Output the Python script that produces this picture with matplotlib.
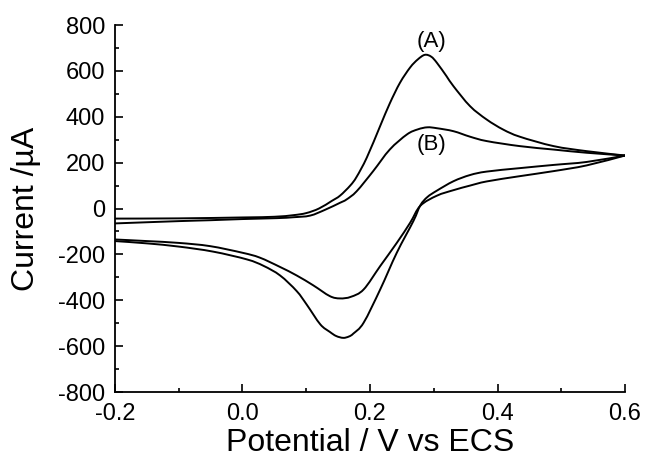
import numpy as np
import matplotlib
matplotlib.use("Agg")
import matplotlib.pyplot as plt
from matplotlib.path import Path
from matplotlib.patches import PathPatch
from matplotlib.ticker import MultipleLocator

plt.rcParams['font.family'] = ['Liberation Sans', 'DejaVu Sans']
plt.rcParams['axes.unicode_minus'] = False

# cycle (A): forward (anodic) scan, -0.2 V -> 0.6 V
pot_a_fwd = [-0.2, -0.1, 0.0, 0.05, 0.08, 0.10, 0.12, 0.14, 0.153, 0.169, 0.179,
             0.195, 0.216, 0.231, 0.247, 0.263, 0.275, 0.286, 0.296, 0.305, 0.320,
             0.331, 0.357, 0.383, 0.409, 0.435, 0.488, 0.540, 0.60]
cur_a_fwd = [-44, -43, -39, -36, -29, -20, 0, 33, 56, 100, 138,
             222, 360, 458, 548, 615, 650, 670, 662, 635, 577,
             533, 446, 388, 344, 313, 272, 250, 231]

# cycle (A): reverse (cathodic) scan, 0.6 V -> -0.2 V
pot_a_rev = [0.60, 0.540, 0.488, 0.435, 0.383, 0.357, 0.331, 0.305, 0.290, 0.279,
             0.268, 0.242, 0.216, 0.19, 0.174, 0.167, 0.158, 0.147, 0.137, 0.122,
             0.101, 0.085, 0.059, 0.033, 0.007, -0.046, -0.1, -0.15, -0.2]
cur_a_rev = [231, 203, 190, 176, 161, 146, 119, 78, 50, 14,
             -55, -193, -353, -498, -545, -558, -564, -556, -538, -505,
             -420, -360, -292, -250, -222, -188, -166, -152, -142]

# cycle (B): forward scan
pot_b_fwd = [-0.2, -0.1, -0.05, 0.0, 0.054, 0.08, 0.106, 0.13, 0.153, 0.163, 0.179,
             0.205, 0.231, 0.258, 0.275, 0.290, 0.305, 0.331, 0.357, 0.383, 0.435,
             0.488, 0.540, 0.60]
cur_b_fwd = [-65, -55, -51, -46, -42, -38, -31, -5, 25, 39, 75,
             163, 257, 323, 345, 354, 350, 337, 313, 294, 272,
             257, 243, 231]

# cycle (B): reverse scan
pot_b_rev = [0.60, 0.540, 0.488, 0.435, 0.383, 0.357, 0.331, 0.305, 0.279, 0.263,
             0.242, 0.216, 0.19, 0.170, 0.153, 0.137, 0.111, 0.085, 0.059, 0.027,
             0.0, -0.051, -0.1, -0.15, -0.2]
cur_b_rev = [231, 188, 163, 141, 118, 100, 80, 56, 12, -62,
             -150, -251, -353, -385, -392, -382, -335, -292, -255, -214,
             -193, -164, -150, -142, -135]

labels = ['(A)', '(B)']
label_pos = [(0.296, 729), (0.296, 279)]


def smooth_path(x, y):
    # Catmull-Rom through the points, written as cubic Bezier segments
    p = np.column_stack([x, y]).astype(float)
    verts = [p[0]]
    codes = [Path.MOVETO]
    n = len(p)
    for i in range(n - 1):
        p0 = p[max(i - 1, 0)]
        p1, p2 = p[i], p[i + 1]
        p3 = p[min(i + 2, n - 1)]
        verts += [p1 + (p2 - p0) / 6, p2 - (p3 - p1) / 6, p2]
        codes += [Path.CURVE4] * 3
    return Path(verts, codes)


fig = plt.figure(figsize=(6.46, 4.58), dpi=100)
ax = fig.add_axes([0.178, 0.1441, 0.7895, 0.8013])

for pf, cf, pr, cr in [(pot_a_fwd, cur_a_fwd, pot_a_rev, cur_a_rev),
                       (pot_b_fwd, cur_b_fwd, pot_b_rev, cur_b_rev)]:
    for px, cy in [(pf, cf), (pr, cr)]:
        ax.add_patch(PathPatch(smooth_path(px, cy), facecolor='none',
                               edgecolor='black', lw=1.4, capstyle='round'))

for txt, (x, y) in zip(labels, label_pos):
    ax.text(x, y, txt, fontsize=16, ha='center', va='center')

ax.set_xlim(-0.2, 0.6)
ax.set_ylim(-800, 800)
ax.xaxis.set_major_locator(MultipleLocator(0.2))
ax.xaxis.set_minor_locator(MultipleLocator(0.1))
ax.yaxis.set_major_locator(MultipleLocator(200))
ax.yaxis.set_minor_locator(MultipleLocator(100))
ax.xaxis.set_major_formatter(lambda v, pos: f'{v:.1f}')

ax.spines['top'].set_visible(False)
ax.spines['right'].set_visible(False)
for s in ['left', 'bottom']:
    ax.spines[s].set_linewidth(1.3)
ax.tick_params(which='both', direction='in', width=1.2, labelsize=17)
ax.tick_params(which='major', length=6)
ax.tick_params(which='minor', length=3)
ax.tick_params(axis='y', pad=7)
ax.tick_params(axis='x', pad=8)

ax.set_xlabel('Potential / V vs ECS', fontsize=23, labelpad=2)
ax.set_ylabel('Current /µA', fontsize=23, labelpad=12)

fig.savefig('out.png', dpi=100)
